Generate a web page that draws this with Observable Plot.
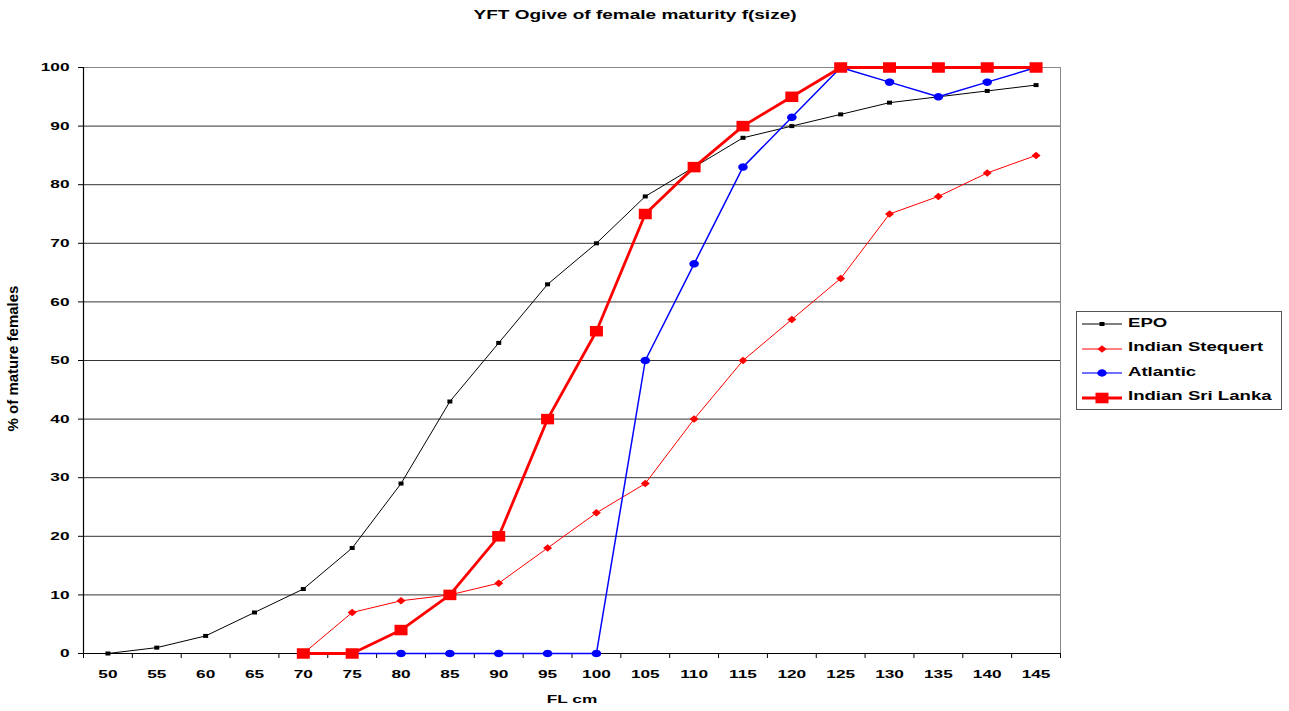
<!DOCTYPE html>
<html>
<head>
<meta charset="utf-8">
<script src="https://cdn.jsdelivr.net/npm/d3@7"></script>
<script src="https://cdn.jsdelivr.net/npm/@observablehq/plot@0.6"></script>
<style>
  html, body { margin: 0; padding: 0; background: #fff; }
  #wrap { position: relative; width: 1289px; height: 711px; font-family: Arial, "Liberation Sans", sans-serif; overflow: hidden; }
  #title { position: absolute; left: 635px; top: 8px; white-space: nowrap; font-weight: bold; font-size: 12.5px; transform: translateX(-50%) scaleX(1.52); }
  #chart { position: absolute; left: 0; top: 30px; }
  #legend { position: absolute; left: 1076px; top: 311px; width: 206px; height: 99px; border: 1px solid #555; box-sizing: border-box; background: #fff; }
  .row { position: absolute; left: 5px; height: 20px; white-space: nowrap; }
  .row svg { position: absolute; left: 0; top: 0; }
  .row span { position: absolute; left: 46px; top: 1.5px; font-weight: bold; font-size: 12.4px; transform: scaleX(1.5); transform-origin: 0 50%; }
</style>
</head>
<body>
<div id="wrap">
  <div id="title">YFT Ogive of female maturity f(size)</div>
  <div id="chart"></div>
  <div id="legend"></div>
</div>
<script>
// FL cm categories
const categories = [50,55,60,65,70,75,80,85,90,95,100,105,110,115,120,125,130,135,140,145];
// % mature females per series (null = no value)
const epo       = [0,1,3,7,11,18,29,43,53,63,70,78,83,88,90,92,94,95,96,97];
const stequert  = [null,null,null,null,0,7,9,10,12,18,24,29,40,50,57,64,75,78,82,85];
const atlantic  = [null,null,null,null,null,0,0,0,0,0,0,50,66.5,83,91.5,100,97.5,95,97.5,100];
const sriLanka  = [null,null,null,null,0,0,4,10,20,40,55,75,83,90,95,100,100,100,100,100];
const yTicks = [0,10,20,30,40,50,60,70,80,90,100];
const seriesNames = ["EPO","Indian Stequert","Atlantic","Indian Sri Lanka"];

const rows = (vals) => categories.map((c,i)=>({fl:c, v:vals[i]})).filter(d=>d.v!=null);
const dEPO = rows(epo), dSteq = rows(stequert), dAtl = rows(atlantic), dSri = rows(sriLanka);
const boundaries = d3.range(categories.length + 1).map(i => categories[0] - 2.5 + 5*i);

// horizontally stretched marker shapes (fixed size)
const rectSym = (w, h) => ({draw(ctx) { ctx.moveTo(-w/2, -h/2); ctx.lineTo(w/2, -h/2); ctx.lineTo(w/2, h/2); ctx.lineTo(-w/2, h/2); ctx.closePath(); }});
const diamondSym = (w, h) => ({draw(ctx) { ctx.moveTo(0, -h/2); ctx.lineTo(w/2, 0); ctx.lineTo(0, h/2); ctx.lineTo(-w/2, 0); ctx.closePath(); }});
const ellipseSym = (w, h) => ({draw(ctx) {
  const n = 24;
  for (let k = 0; k < n; k++) { const a = 2*Math.PI*k/n; const x = Math.cos(a)*w/2, y = Math.sin(a)*h/2; k ? ctx.lineTo(x, y) : ctx.moveTo(x, y); }
  ctx.closePath();
}});

const W = 1289, H = 681;
const chart = Plot.plot({
  width: W, height: H,
  marginLeft: 83, marginRight: 229, marginTop: 37, marginBottom: 58,
  style: {fontFamily: "Arial, 'Liberation Sans', sans-serif", fontSize: "11.5px", fontWeight: "bold", color: "#000", overflow: "visible"},
  x: {type: "linear", domain: [boundaries[0], boundaries[boundaries.length-1]], label: null},
  y: {domain: [0,100], label: null},
  marks: [
    Plot.ruleY(yTicks.filter(t=>t>0 && t<100), {stroke: "#333", strokeWidth: 1}),
    Plot.ruleY([100], {stroke: "#888", strokeWidth: 1}),
    Plot.ruleX([boundaries[boundaries.length-1]], {stroke: "#888", strokeWidth: 1}),
    Plot.axisY({ticks: yTicks, tickSize: 5, tickPadding: 9, label: null, fontSize: 11.5, fontWeight: "bold"}),
    Plot.axisX({ticks: categories, tickSize: 0, tickPadding: 16, label: null, fontSize: 11.5, fontWeight: "bold"}),
    Plot.axisX({ticks: boundaries, tickSize: 5, tickFormat: () => "", label: null}),
    Plot.ruleY([0], {stroke: "#000", strokeWidth: 1.2}),
    Plot.ruleX([boundaries[0]], {stroke: "#000", strokeWidth: 1.2}),
    // EPO
    Plot.line(dEPO, {x: "fl", y: "v", stroke: "#000", strokeWidth: 1}),
    Plot.dot(dEPO, {x: "fl", y: "v", symbol: rectSym(5, 4), r: 1, fill: "#000"}),
    // Indian Stequert
    Plot.line(dSteq, {x: "fl", y: "v", stroke: "#ff0000", strokeWidth: 1}),
    Plot.dot(dSteq, {x: "fl", y: "v", symbol: diamondSym(9, 7.5), r: 1, fill: "#ff0000"}),
    // Atlantic
    Plot.line(dAtl, {x: "fl", y: "v", stroke: "#0000ff", strokeWidth: 1.5}),
    Plot.dot(dAtl, {x: "fl", y: "v", symbol: ellipseSym(9.5, 7.5), r: 1, fill: "#0000ff"}),
    // Indian Sri Lanka
    Plot.line(dSri, {x: "fl", y: "v", stroke: "#ff0000", strokeWidth: 2.8}),
    Plot.dot(dSri, {x: "fl", y: "v", symbol: rectSym(13, 10.5), r: 1, fill: "#ff0000"}),
    // axis titles
    Plot.text(["FL cm"], {frameAnchor: "bottom", dy: 49, fontSize: 11.5, fontWeight: "bold"}),
    Plot.text(["% of mature females"], {frameAnchor: "left", textAnchor: "middle", dx: -70, dy: -2, rotate: -90, fontSize: 15, fontWeight: "bold", letterSpacing: "-0.5px"})
  ]
});
// stretch horizontal text like the reference (wide glyphs)
chart.querySelectorAll("text").forEach(t => {
  if (!t.textContent) return;
  let tr = t.getAttribute("transform");
  if (!tr) {
    const x = +t.getAttribute("x") || 0, y = +t.getAttribute("y") || 0;
    t.setAttribute("x", 0); t.setAttribute("y", 0);
    tr = `translate(${x},${y})`;
  }
  if (!tr.includes("rotate")) t.setAttribute("transform", tr + " scale(1.5,1)");
});
document.getElementById("chart").appendChild(chart);

// legend
const legend = document.getElementById("legend");
const styles = [
  {stroke:"#000", sw:1, shape:`<rect x="17.5" y="8" width="5" height="4" fill="#000"/>`},
  {stroke:"#ff0000", sw:1, shape:`<path d="M20,6.2L24.5,10L20,13.8L15.5,10Z" fill="#ff0000"/>`},
  {stroke:"#4040ff", sw:1.5, shape:`<ellipse cx="20" cy="10" rx="4.7" ry="3.7" fill="#0000ff"/>`},
  {stroke:"#ff0000", sw:2.8, shape:`<rect x="13.5" y="4.7" width="13" height="10.6" fill="#ff0000"/>`}
];
seriesNames.forEach((name, i) => {
  const s = styles[i];
  const row = document.createElement("div");
  row.className = "row";
  row.style.top = (2 + i*24.5) + "px";
  row.innerHTML = `<svg width="42" height="20"><line x1="0" x2="40" y1="10" y2="10" stroke="${s.stroke}" stroke-width="${s.sw}"/>${s.shape}</svg><span>${name}</span>`;
  legend.appendChild(row);
});
</script>
</body>
</html>
